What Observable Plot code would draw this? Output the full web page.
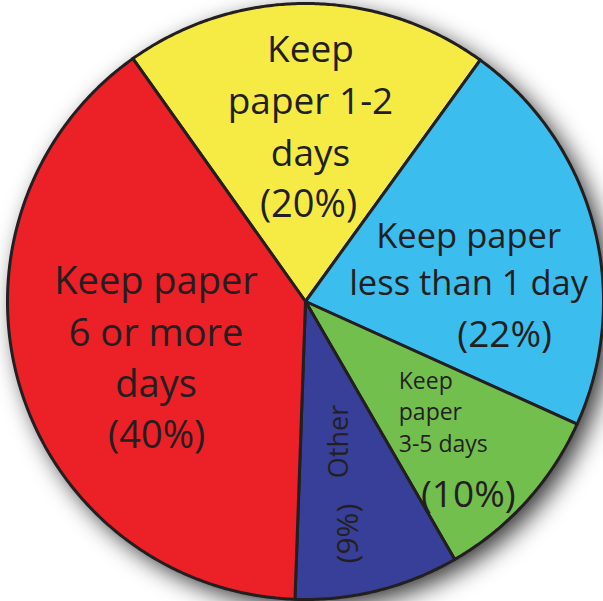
<!DOCTYPE html>
<html>
<head>
<meta charset="utf-8">
<script src="https://cdn.jsdelivr.net/npm/d3@7"></script>
<script src="https://cdn.jsdelivr.net/npm/@observablehq/plot@0.6"></script>
<style>
  html, body { margin: 0; padding: 0; background: #ffffff; overflow: hidden; }
  #chart svg { display: block; }
</style>
</head>
<body>
<div id="chart"></div>
<script>
// How long households keep the newspaper (share of readers, %)
const categories = [
  "Keep paper 1-2 days",
  "Keep paper less than 1 day",
  "Keep paper 3-5 days",
  "Other",
  "Keep paper 6 or more days"
];
const shares = [20, 22, 10, 9, 40];
const labelLines = [
  "Keep\npaper 1-2\ndays",
  "Keep paper\nless than 1 day",
  "Keep\npaper\n3-5 days",
  "Other",
  "Keep paper\n6 or more\ndays"
];
const sliceColors = ["#f6eb45", "#3bbdee", "#73bf4e", "#373f98", "#ec2027"];

// Label placement: angle in degrees clockwise from 12 o'clock and distance
// from the centre as a fraction of the radius.
const nameLayout = [
  {angle: 1.4,   r: 0.685, size: 37,   lineHeight: 1.4,  anchor: "middle", rotate: 0},
  {angle: 74.5,  r: 0.568, size: 34.5, lineHeight: 1.37, anchor: "middle", rotate: 0},
  {angle: 139.3, r: 0.48,  size: 23,   lineHeight: 1.37, anchor: "start",  rotate: 0},
  {angle: 167.1, r: 0.482, size: 27,   lineHeight: 1.2,  anchor: "middle", rotate: -90},
  {angle: 259.5, r: 0.51,  size: 38,   lineHeight: 1.35, anchor: "middle", rotate: 0}
];
const shareLayout = [
  {angle: 1.8,   r: 0.325, size: 38, rotate: 0},
  {angle: 99.7,  r: 0.678, size: 37, rotate: 0},
  {angle: 140.0, r: 0.85,  size: 37, rotate: 0},
  {angle: 169.5, r: 0.792, size: 30, rotate: -90},
  {angle: 228.0, r: 0.672, size: 38, rotate: 0}
];

const W = 603, H = 601;       // page size
const CX = 305, CY = 301;     // pie centre in pixels
const R = 298;                // pie radius in pixels
const ink = "#231f20";
const font = "'Open Sans', 'DejaVu Sans', sans-serif";
const deg = Math.PI / 180;

// Pie geometry in unit-radius coordinates (y up), starting left of 12 o'clock
const startAngle = -35.4 * deg;
const arcs = d3.pie().sort(null).value(d => d)
  .startAngle(startAngle).endAngle(startAngle + 2 * Math.PI)(shares);

const polar = (a, r) => ({x: r * Math.sin(a), y: r * Math.cos(a)});

const wedgePoints = arcs.flatMap((arc, i) => {
  const pts = [{...polar(0, 0), category: categories[i]}];
  const steps = Math.max(2, Math.ceil((arc.endAngle - arc.startAngle) / (0.5 * deg)));
  for (let k = 0; k <= steps; ++k) {
    const a = arc.startAngle + (arc.endAngle - arc.startAngle) * k / steps;
    pts.push({...polar(a, 1), category: categories[i]});
  }
  pts.push({...polar(0, 0), category: categories[i]});
  return pts;
});

const textMarks = [];
categories.forEach((c, i) => {
  const n = nameLayout[i];
  const p = polar(n.angle * deg, n.r);
  textMarks.push(Plot.text([{...p, label: labelLines[i]}], {
    x: "x", y: "y", text: "label",
    fontSize: n.size, lineHeight: n.lineHeight, textAnchor: n.anchor,
    rotate: n.rotate, fill: ink, fontFamily: font
  }));
  const s = shareLayout[i];
  const q = polar(s.angle * deg, s.r);
  textMarks.push(Plot.text([{...q, label: `(${shares[i]}%)`}], {
    x: "x", y: "y", text: "label",
    fontSize: s.size, textAnchor: "middle",
    rotate: s.rotate, fill: ink, fontFamily: font
  }));
});

const chart = Plot.plot({
  width: W,
  height: H,
  margin: 0,
  style: {background: "#ffffff", fontFamily: font},
  x: {domain: [-CX / R, (W - CX) / R], range: [0, W], axis: null},
  y: {domain: [-(H - CY) / R, CY / R], range: [H, 0], axis: null},
  color: {domain: categories, range: sliceColors},
  marks: [
    // soft drop shadow under the pie (a disc of the pie's radius)
    Plot.dot([polar(0, 0)], {
      x: "x", y: "y", r: R, fill: "#000000", fillOpacity: 0.8, stroke: "none",
      dx: 8, dy: 8, imageFilter: "blur(12px)"
    }),
    Plot.line(wedgePoints, {
      x: "x", y: "y", z: "category", fill: "category",
      stroke: ink, strokeWidth: 3, strokeLinejoin: "round"
    }),
    ...textMarks
  ]
});

document.getElementById("chart").appendChild(chart);
</script>
</body>
</html>
